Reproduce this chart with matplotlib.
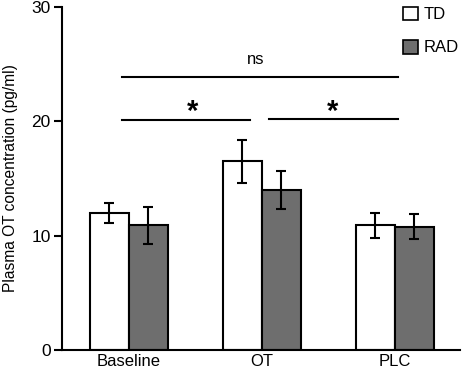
import numpy as np
import matplotlib
matplotlib.use('Agg')
import matplotlib.pyplot as plt
from matplotlib.patches import Patch

plt.rcParams['font.family'] = ['Liberation Sans', 'DejaVu Sans']

conditions = ['Baseline', 'OT', 'PLC']
td_mean = [12.0, 16.5, 10.9]
td_err = [0.9, 1.9, 1.1]
rad_mean = [10.9, 14.0, 10.8]
rad_err = [1.6, 1.7, 1.1]

fig = plt.figure(figsize=(4.62, 3.72), dpi=100)
ax = fig.add_axes([0.134, 0.059, 0.862, 0.922])

x = np.arange(len(conditions))
w = 0.293
err_kw = dict(ecolor='black', elinewidth=1.5, capsize=3.5, capthick=1.5)
ax.bar(x - w / 2, td_mean, w, yerr=td_err, color='white', edgecolor='black',
       linewidth=1.5, error_kw=err_kw, zorder=2)
ax.bar(x + w / 2, rad_mean, w, yerr=rad_err, color='#6e6e6e', edgecolor='black',
       linewidth=1.5, error_kw=err_kw, zorder=2)

# significance brackets
ax.plot([-0.053, 2.02], [23.9, 23.9], color='black', lw=1.5)
ax.text(0.95, 24.8, 'ns', ha='center', va='bottom', fontsize=12)
ax.plot([-0.053, 0.91], [20.1, 20.1], color='black', lw=1.5)
ax.plot([1.05, 2.02], [20.2, 20.2], color='black', lw=1.5)
ax.text(0.48, 19.6, '*', ha='center', va='bottom', fontsize=21, fontweight='bold')
ax.text(1.53, 19.6, '*', ha='center', va='bottom', fontsize=21, fontweight='bold')

ax.set_xlim(-0.504, 2.49)
ax.set_ylim(0, 30)
ax.set_yticks([0, 10, 20, 30])
ax.set_xticks(x)
ax.set_xticklabels(conditions, fontsize=12)
ax.tick_params(axis='x', length=0, pad=3)
ax.tick_params(axis='y', labelsize=12.5, width=1.5, length=6, pad=2)
ax.set_ylabel('Plasma OT concentration (pg/ml)', fontsize=11.2, labelpad=10)

for s in ['top', 'right']:
    ax.spines[s].set_visible(False)
for s in ['left', 'bottom']:
    ax.spines[s].set_linewidth(1.5)

handles = [Patch(facecolor='white', edgecolor='black', linewidth=1.2, label='TD'),
           Patch(facecolor='#6e6e6e', edgecolor='black', linewidth=1.2, label='RAD')]
ax.legend(handles=handles, loc='upper right', bbox_to_anchor=(1.035, 1.045),
          frameon=False, fontsize=12, handlelength=0.9, handleheight=0.9,
          handletextpad=0.35, labelspacing=1.05)

fig.savefig('out.png', dpi=100)
